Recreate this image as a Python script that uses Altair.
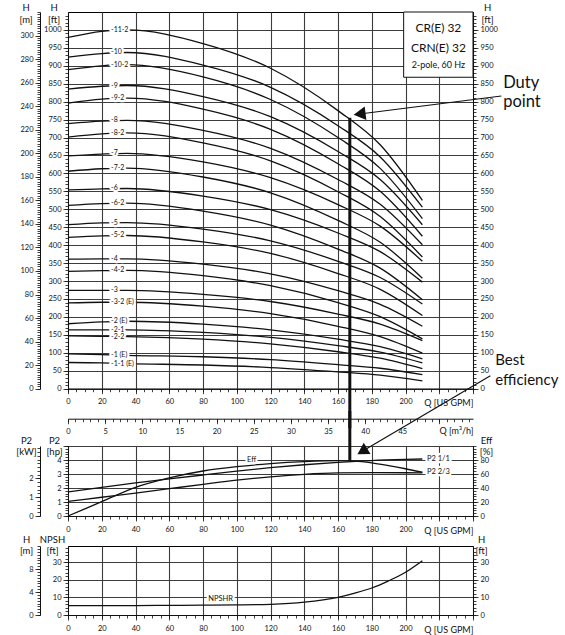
import altair as alt
import pandas as pd

FONT = "Lato"
INK = "#111111"
GRID = "#3c3c3c"

FT_PER_M = 3.28084
GPM_PER_M3H = 4.402868
HP_PER_KW = 1.341022

W = 405
H_MAIN = 376.7
H_POWER = 70
H_NPSH = 69
GAP_1 = 56.3
GAP_2 = 30

# ---------------- Q-H curves (Q in US GPM, H in ft) ----------------
q_head = [0, 20, 35, 80, 120, 160, 185, 210]
curve_names = ["-11-2", "-10", "-10-2", "-9", "-9-2", "-8", "-8-2", "-7", "-7-2",
               "-6", "-6-2", "-5", "-5-2", "-4", "-4-2", "-3", "-3-2 (E)", "-2 (E)",
               "-2-1", "-2-2", "-1 (E)", "-1-1 (E)"]
curve_heads = [
    [979, 996, 1000, 962, 893, 775, 680, 525],
    [924, 934, 937, 902, 840, 733, 646, 506],
    [889, 900, 903, 869, 806, 700, 614, 474],
    [835, 843, 845, 814, 758, 661, 583, 457],
    [796, 807, 810, 779, 723, 627, 550, 425],
    [739, 746, 748, 720, 670, 583, 514, 401],
    [701, 710, 713, 685, 635, 549, 480, 367],
    [649, 654, 656, 632, 588, 513, 453, 355],
    [606, 613, 615, 590, 546, 469, 408, 308],
    [554, 557, 558, 537, 499, 434, 382, 297],
    [511, 516, 517, 495, 456, 389, 336, 248],
    [457, 462, 463, 445, 412, 355, 310, 236],
    [422, 426, 427, 409, 377, 321, 277, 204],
    [361, 362, 362, 347, 320, 273, 235, 174],
    [327, 329, 330, 315, 287, 240, 201, 139],
    [274, 274, 274, 263, 243, 208, 180, 134],
    [239, 241, 241, 230, 209, 174, 145, 99],
    [181, 186, 188, 180, 164, 138, 117, 83],
    [164, 164, 164, 157, 143, 120, 102, 72],
    [147, 146, 145, 138, 125, 103, 85, 56],
    [97, 95, 93, 89, 81, 67, 57, 39],
    [73, 72, 70, 66, 59, 47, 38, 22],
]
label_q = 25.5

# ---------------- power / efficiency ----------------
q_power = [0, 20, 40, 60, 80, 100, 120, 140, 160, 180, 200, 210]
p2_full_hp = [1.72, 2.05, 2.36, 2.65, 2.93, 3.20, 3.45, 3.66, 3.83, 3.96, 4.04, 4.07]
p2_twothird_hp = [1.04, 1.34, 1.64, 1.95, 2.26, 2.56, 2.80, 2.98, 3.08, 3.10, 3.09, 3.08]
q_eff = [0, 20, 40, 60, 80, 100, 120, 140, 160, 170, 180, 190, 200, 210]
eff_pct = [0, 20.5, 41, 54.5, 64.3, 70.5, 74.8, 77.6, 79.0, 78.5, 76.0, 72.0, 67.5, 62.5]

# ---------------- NPSH ----------------
q_npsh = [0, 20, 40, 60, 80, 100, 120, 140, 160, 170, 180, 190, 200, 210]
npshr_ft = [5.3, 5.35, 5.4, 5.5, 5.6, 5.75, 6.1, 7.3, 10.1, 12.5, 15.4, 19.5, 24.4, 31.0]

# ---------------- annotations (data units) ----------------
duty_q = 167
duty_head_ft = 755
duty_eff_hp = 3.92
duty_arrow = {"q1": 256.8, "h1": 815.7, "q2": 172.8, "h2": 765.6}
best_arrow = {"q1": 250.3, "p1": 10.02, "q2": 174.4, "p2": 4.62}
info_lines = ["CR(E) 32", "CRN(E) 32", "2-pole, 60 Hz"]
info_heights = [1005, 949.5, 902]
info_sizes = [12, 12, 9]
info_q = 219.5
info_box = {"q1": 198.9, "q2": 240, "h1": 868, "h2": 320 * FT_PER_M}
duty_words = ["Duty", "point"]
duty_word_h = [852, 800]
duty_word_q = 257.9
best_words = ["Best", "efficiency"]
best_word_h = [79, 25]
best_word_q = 253.2
power_labels = ["Eff", "P2 1/1", "P2 2/3"]
power_label_q = [106.1, 212.7, 212.7]
power_label_hp = [4.0, 4.07, 3.13]
npsh_label = ["NPSHR"]
npsh_label_q = [83.1]
npsh_label_ft = [9.3]

# ---------------- scales ----------------
GPM = alt.Scale(domain=[0, 240], nice=False, zero=False)
FT = alt.Scale(domain=[0, 320 * FT_PER_M], nice=False, zero=False)
HP = alt.Scale(domain=[0, 5], nice=False, zero=False)
NP = alt.Scale(domain=[0, 12 * FT_PER_M], nice=False, zero=False)

DUMMY = pd.DataFrame({"v": [0.0]})


def major(**kw):
    base = dict(grid=False, tickSize=5, labelPadding=2, labelFlush=False,
                labelOverlap=False, labelBound=False, title="")
    base.update(kw)
    return base


def minor(**kw):
    base = dict(grid=False, tickSize=3, labels=False, domain=False, title="")
    base.update(kw)
    return base


def ytitle(lines, x, y, lh=11.5):
    return dict(title=lines, titleAngle=0, titleX=x, titleY=y, titleAlign="center",
                titleBaseline="alphabetic", titleLineHeight=lh, titleFontSize=9.5,
                titleFontWeight="normal")


def xtitle(text, y=14):
    return dict(title=text, titleX=W, titleY=y, titleAlign="right", titleAnchor="end",
                titleBaseline="middle", titleFontSize=9, titleFontWeight="normal")


def ax_x(xs, ys, kw):
    return alt.Chart(DUMMY).mark_point(opacity=0).encode(
        x=alt.X("v:Q", scale=xs, axis=alt.Axis(**kw)),
        y=alt.Y("v:Q", scale=ys, axis=None))


def ax_y(xs, ys, kw):
    return alt.Chart(DUMMY).mark_point(opacity=0).encode(
        x=alt.X("v:Q", scale=xs, axis=None),
        y=alt.Y("v:Q", scale=ys, axis=alt.Axis(**kw)))


def halo_text(df, xf, yf, xs, ys, size, align="left"):
    base = alt.Chart(df).encode(
        x=alt.X(f"{xf}:Q", scale=xs, axis=None),
        y=alt.Y(f"{yf}:Q", scale=ys, axis=None),
        text="t:N")
    return [
        base.mark_text(align=align, baseline="middle", font=FONT, fontSize=size,
                       color="white", stroke="white", strokeWidth=4.5, strokeJoin="round"),
        base.mark_text(align=align, baseline="middle", font=FONT, fontSize=size, color=INK),
    ]


def gpm_axes(ys):
    return [
        ax_x(GPM, ys, major(orient="bottom", values=list(range(0, 241, 20)), grid=True,
                            gridColor=GRID, gridWidth=1.1, labelPadding=4,
                            labelExpr="datum.value > 200 ? '' : datum.label",
                            **xtitle("Q [US GPM]"))),
        ax_x(GPM, ys, minor(orient="bottom", values=list(range(0, 241, 5)))),
    ]


# ================= main chart =================
curves_df = pd.DataFrame([{"curve": n, "q": q, "h": h}
                          for n, hs in zip(curve_names, curve_heads)
                          for q, h in zip(q_head, hs)])
labels_df = pd.DataFrame({"t": curve_names, "q": [label_q] * len(curve_names),
                          "h": [hs[2] for hs in curve_heads]})

m3h_major_pos = [m * GPM_PER_M3H for m in range(0, 51, 5)]
m3h_minor_pos = [m * GPM_PER_M3H for m in range(0, 55)]

main_layers = gpm_axes(FT) + [
    ax_x(GPM, FT, major(orient="bottom", offset=30, values=m3h_major_pos, labelPadding=4,
                        labelExpr="datum.value > 200 ? '' : format(datum.value / 4.402868, '.0f')",
                        **xtitle("Q [m³/h]", 12))),
    ax_x(GPM, FT, minor(orient="bottom", offset=30, values=m3h_minor_pos)),
    ax_y(GPM, FT, major(orient="left", values=list(range(0, 1001, 50)), grid=True,
                        gridColor=GRID, gridWidth=1.1, format="d",
                        **ytitle(["H", "[ft]"], -14.4, -1.5))),
    ax_y(GPM, FT, minor(orient="left", values=list(range(0, 1050, 10)))),
    ax_y(GPM, FT, major(orient="right", values=list(range(0, 1001, 50)), format="d",
                        **ytitle(["H", "[ft]"], 14, -1.5))),
    ax_y(GPM, FT, minor(orient="right", values=list(range(0, 1050, 10)))),
    ax_y(GPM, FT, major(orient="left", offset=28,
                        values=[m * FT_PER_M for m in range(0, 301, 20)],
                        labelExpr="format(datum.value * 0.3048, '.0f')",
                        **ytitle(["H", "[m]"], -14.4, -1.5))),
    ax_y(GPM, FT, minor(orient="left", offset=28,
                        values=[m * FT_PER_M for m in range(0, 321, 2)])),
    alt.Chart(curves_df).mark_line(color=INK, strokeWidth=1.3, interpolate="monotone").encode(
        x=alt.X("q:Q", scale=GPM, axis=None),
        y=alt.Y("h:Q", scale=FT, axis=None),
        detail="curve:N"),
] + halo_text(labels_df, "q", "h", GPM, FT, 7) + [
    alt.Chart(pd.DataFrame([info_box])).mark_rect(fill="white", stroke=INK, strokeWidth=1).encode(
        x=alt.X("q1:Q", scale=GPM, axis=None), x2="q2",
        y=alt.Y("h1:Q", scale=FT, axis=None), y2="h2"),
    alt.Chart(pd.DataFrame({"t": info_lines, "q": [info_q] * 3, "h": info_heights,
                            "s": info_sizes})).mark_text(
        align="center", baseline="middle", font=FONT, color=INK).encode(
        x=alt.X("q:Q", scale=GPM, axis=None), y=alt.Y("h:Q", scale=FT, axis=None),
        text="t:N", size=alt.Size("s:Q", scale=None)),
    alt.Chart(pd.DataFrame([duty_arrow])).mark_rule(color=INK, strokeWidth=1.2).encode(
        x=alt.X("q1:Q", scale=GPM, axis=None), x2="q2",
        y=alt.Y("h1:Q", scale=FT, axis=None), y2="h2"),
    alt.Chart(pd.DataFrame([duty_arrow])).mark_point(
        shape="triangle-up", filled=True, size=190, angle=263, color=INK, opacity=1).encode(
        x=alt.X("q2:Q", scale=GPM, axis=None), y=alt.Y("h2:Q", scale=FT, axis=None)),
    alt.Chart(pd.DataFrame({"t": duty_words, "q": [duty_word_q] * 2, "h": duty_word_h})).mark_text(
        align="left", baseline="middle", font=FONT, fontSize=16.5, color=INK).encode(
        x=alt.X("q:Q", scale=GPM, axis=None), y=alt.Y("h:Q", scale=FT, axis=None), text="t:N"),
    alt.Chart(pd.DataFrame({"t": best_words, "q": [best_word_q] * 2, "h": best_word_h})).mark_text(
        align="left", baseline="middle", font=FONT, fontSize=15, color=INK).encode(
        x=alt.X("q:Q", scale=GPM, axis=None), y=alt.Y("h:Q", scale=FT, axis=None), text="t:N"),
    alt.Chart(pd.DataFrame({"q": [duty_q], "h1": [duty_head_ft], "h2": [-110]})).mark_rule(
        color=INK, strokeWidth=3).encode(
        x=alt.X("q:Q", scale=GPM, axis=None),
        y=alt.Y("h1:Q", scale=FT, axis=None), y2="h2"),
]

main = alt.layer(*main_layers).resolve_axis(x="independent", y="independent").properties(
    width=W, height=H_MAIN)

# ================= power chart =================
power_df = pd.concat([
    pd.DataFrame({"s": "P2 1/1", "q": q_power, "hp": p2_full_hp}),
    pd.DataFrame({"s": "P2 2/3", "q": q_power, "hp": p2_twothird_hp}),
    pd.DataFrame({"s": "Eff", "q": q_eff, "hp": [e / 20 for e in eff_pct]}),
])
power_lab_df = pd.DataFrame({"t": power_labels, "q": power_label_q, "hp": power_label_hp})

power_layers = gpm_axes(HP) + [
    ax_y(GPM, HP, major(orient="left", values=[0, 1, 2, 3, 4, 5], grid=True, gridColor=GRID,
                        gridWidth=1.1, labelExpr="datum.value > 4 ? '' : datum.label",
                        **ytitle(["P2", "[hp]"], -14, -2.5, 11))),
    ax_y(GPM, HP, minor(orient="left", values=[i * 0.2 for i in range(26)])),
    ax_y(GPM, HP, major(orient="left", offset=28, values=[k * HP_PER_KW for k in [0, 1, 2]],
                        labelExpr="format(datum.value / 1.341022, '.0f')",
                        **ytitle(["P2", "[kW]"], -14, -2.5, 11))),
    ax_y(GPM, HP, minor(orient="left", offset=28,
                        values=[k * 0.2 * HP_PER_KW for k in range(19)])),
    ax_y(GPM, HP, major(orient="right", values=[e / 20 for e in range(0, 81, 20)],
                        labelExpr="format(datum.value * 20, '.0f')",
                        **ytitle(["Eff", "[%]"], 13, -2.5, 11))),
    ax_y(GPM, HP, minor(orient="right", values=[e / 20 for e in range(0, 101, 4)])),
    alt.Chart(power_df).mark_line(color=INK, strokeWidth=1.3, interpolate="monotone").encode(
        x=alt.X("q:Q", scale=GPM, axis=None),
        y=alt.Y("hp:Q", scale=HP, axis=None),
        detail="s:N"),
] + halo_text(power_lab_df, "q", "hp", GPM, HP, 7.5) + [
    alt.Chart(pd.DataFrame({"q": [duty_q], "p1": [duty_eff_hp], "p2": [7.5]})).mark_rule(
        color=INK, strokeWidth=3).encode(
        x=alt.X("q:Q", scale=GPM, axis=None),
        y=alt.Y("p1:Q", scale=HP, axis=None), y2="p2"),
    alt.Chart(pd.DataFrame([best_arrow])).mark_rule(color=INK, strokeWidth=1.2).encode(
        x=alt.X("q1:Q", scale=GPM, axis=None), x2="q2",
        y=alt.Y("p1:Q", scale=HP, axis=None), y2="p2"),
    alt.Chart(pd.DataFrame([best_arrow])).mark_point(
        shape="triangle-up", filled=True, size=170, angle=239, color=INK, opacity=1).encode(
        x=alt.X("q2:Q", scale=GPM, axis=None), y=alt.Y("p2:Q", scale=HP, axis=None)),
]

power = alt.layer(*power_layers).resolve_axis(x="independent", y="independent").properties(
    width=W, height=H_POWER)

# ================= NPSH chart =================
npsh_df = pd.DataFrame({"q": q_npsh, "ft": npshr_ft})
npsh_lab_df = pd.DataFrame({"t": npsh_label, "q": npsh_label_q, "ft": npsh_label_ft})

npsh_layers = gpm_axes(NP) + [
    ax_y(GPM, NP, major(orient="left", values=[0, 10, 20, 30], grid=True, gridColor=GRID,
                        gridWidth=1.1, **ytitle(["NPSH", "[ft]"], -16, -3.5, 11))),
    ax_y(GPM, NP, minor(orient="left", values=list(range(0, 40, 2)))),
    ax_y(GPM, NP, major(orient="left", offset=28, values=[m * FT_PER_M for m in [0, 4, 8]],
                        labelExpr="format(datum.value * 0.3048, '.0f')",
                        **ytitle(["H", "[m]"], -14, -3.5, 11))),
    ax_y(GPM, NP, minor(orient="left", offset=28,
                        values=[m * 0.5 * FT_PER_M for m in range(25)])),
    ax_y(GPM, NP, major(orient="right", values=[0, 10, 20, 30],
                        **ytitle(["H", "[ft]"], 8, -3.5, 11))),
    ax_y(GPM, NP, minor(orient="right", values=list(range(0, 40, 2)))),
    alt.Chart(npsh_df).mark_line(color=INK, strokeWidth=1.3, interpolate="monotone").encode(
        x=alt.X("q:Q", scale=GPM, axis=None),
        y=alt.Y("ft:Q", scale=NP, axis=None)),
] + halo_text(npsh_lab_df, "q", "ft", GPM, NP, 7.5)

npsh = alt.layer(*npsh_layers).resolve_axis(x="independent", y="independent").properties(
    width=W, height=H_NPSH)


def spacer(h):
    return alt.Chart(DUMMY).mark_point(opacity=0).encode(
        x=alt.X("v:Q", axis=None), y=alt.Y("v:Q", axis=None)
    ).properties(width=W, height=h, view=alt.ViewBackground(strokeOpacity=0))


chart = alt.vconcat(main, spacer(GAP_1), power, spacer(GAP_2), npsh,
                    spacing=0, bounds="flush").properties(
    padding={"left": 15, "top": 2, "right": 5, "bottom": 2},
    autosize=alt.AutoSizeParams(type="pad"),
).configure_view(stroke="black", strokeWidth=1).configure_axis(
    labelFont=FONT, titleFont=FONT, labelColor=INK, titleColor=INK,
    tickColor=INK, domainColor=INK, labelFontSize=7.5, tickWidth=0.8, domainWidth=1,
).configure_text(font=FONT)

chart.save("out.html", embed_options={"renderer": "svg", "actions": False})
